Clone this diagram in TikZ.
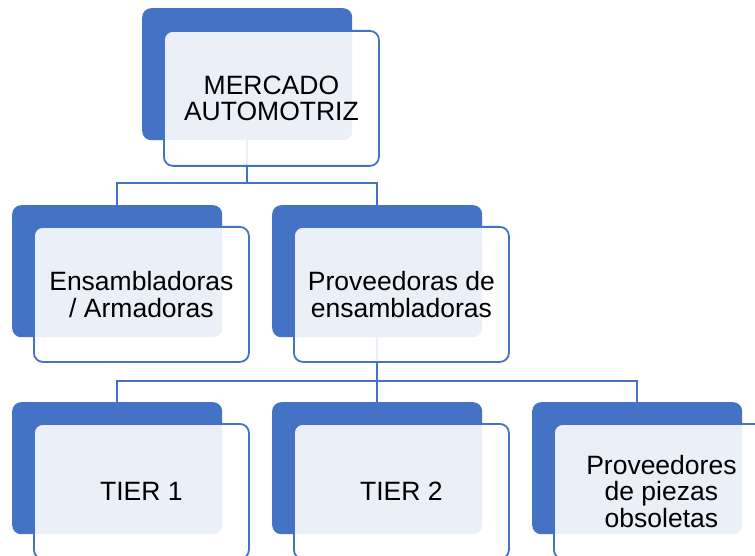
\documentclass[tikz,border=0pt]{standalone}
\usepackage{fontspec}
\setmainfont{Liberation Sans}
\definecolor{sablue}{HTML}{4472C4}
\tikzset{
  backbox/.style={anchor=north west, inner sep=0pt, minimum width=210pt, minimum height=132pt,
    rounded corners=9pt, fill=sablue, draw=none},
  frontbox/.style={anchor=north west, inner sep=0pt, minimum width=215pt, minimum height=135pt,
    rounded corners=9pt, fill=white, fill opacity=0.89, text opacity=1, draw=sablue, line width=1.8pt,
    align=center, font=\fontsize{26.5}{26.5}\selectfont},
  conn/.style={draw=sablue, line width=2.5pt}
}
\begin{document}
\begin{tikzpicture}[x=1pt,y=1pt]
\useasboundingbox (0,0) rectangle (755,-556);
\clip (0,0) rectangle (755,-556);
% back boxes
\node[backbox] (b1) at (142,-8) {};
\node[backbox] (b2) at (12,-205) {};
\node[backbox] (b3) at (272,-205) {};
\node[backbox] (b4) at (12,-402) {};
\node[backbox] (b5) at (272,-402) {};
\node[backbox] (b6) at (532,-402) {};
% connectors
\draw[conn] (b1.south) |- ([yshift=22pt]b2.north) -- (b2.north);
\draw[conn] (b1.south) |- ([yshift=22pt]b3.north) -- (b3.north);
\draw[conn] (b3.south) |- ([yshift=21pt]b4.north) -- (b4.north);
\draw[conn] (b3.south) -- (b5.north);
\draw[conn] (b3.south) |- ([yshift=21pt]b6.north) -- (b6.north);
% front boxes
\node[frontbox] (f1) at (163,-30) {MERCADO\\AUTOMOTRIZ};
\node[frontbox] (f2) at (33,-226) {Ensambladoras\\/ Armadoras};
\node[frontbox] (f3) at (293,-226) {Proveedoras de\\ensambladoras};
\node[frontbox] (f4) at (33,-423) {TIER 1};
\node[frontbox] (f5) at (293,-423) {TIER 2};
\node[frontbox] (f6) at (553,-423) {Proveedores\\de piezas\\obsoletas};
\end{tikzpicture}
\end{document}
